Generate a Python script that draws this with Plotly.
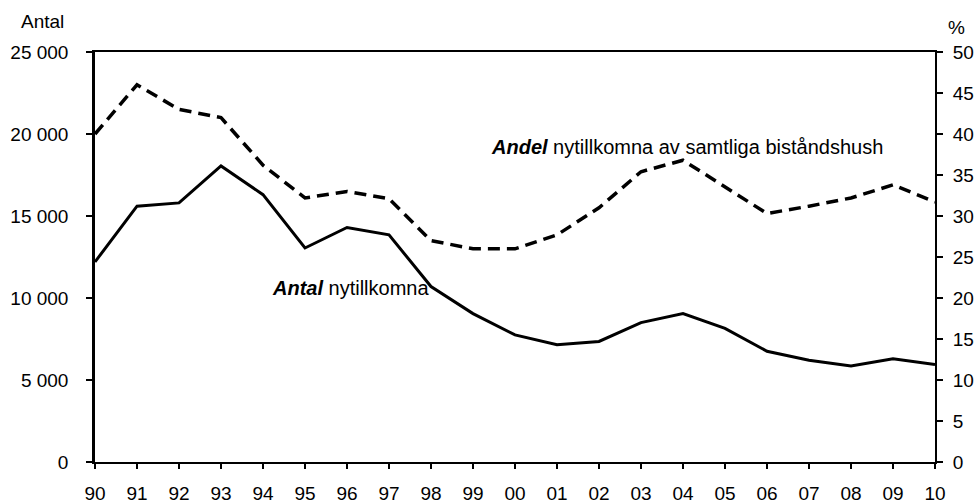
import plotly.graph_objects as go

years = ["90", "91", "92", "93", "94", "95", "96", "97", "98", "99", "00",
         "01", "02", "03", "04", "05", "06", "07", "08", "09", "10"]
antal = [12200, 15600, 15800, 18050, 16300, 13050, 14300, 13850, 10700, 9050, 7750,
         7150, 7350, 8500, 9050, 8150, 6750, 6200, 5850, 6300, 5950]
andel = [40.0, 46.0, 43.0, 42.0, 36.2, 32.2, 33.0, 32.1, 27.0, 26.0, 26.0,
         27.7, 31.0, 35.4, 36.8, 33.5, 30.3, 31.2, 32.2, 33.8, 31.7]

left_vals = [0, 5000, 10000, 15000, 20000, 25000]
left_text = ["0", "5 000", "10 000", "15 000", "20 000", "25 000"]
right_vals = [0, 5, 10, 15, 20, 25, 30, 35, 40, 45, 50]

FONT = "Liberation Sans, Arial, sans-serif"
W, H = 979, 503
ML, MR, MT, MB = 95, 44, 52, 41
PW, PH = W - ML - MR, H - MT - MB

def px(x):
    return (x - ML) / PW

def py(y):
    return (H - MB - y) / PH

fig = go.Figure()
fig.add_trace(go.Scatter(x=years, y=antal, mode="lines", name="Antal",
                         line=dict(color="black", width=3), yaxis="y"))
fig.add_trace(go.Scatter(x=years, y=andel, mode="lines", name="Andel",
                         line=dict(color="black", width=3.5, dash="12px,7px"), yaxis="y2"))

fig.update_layout(
    width=W, height=H,
    margin=dict(l=ML, r=MR, t=MT, b=MB, autoexpand=False),
    paper_bgcolor="white", plot_bgcolor="white",
    showlegend=False,
    font=dict(family=FONT, size=19, color="black"),
    xaxis=dict(type="category", range=[0, 20], showgrid=False, zeroline=False,
               showline=True, linecolor="black", linewidth=2, mirror=True,
               ticks="outside", ticklen=5, tickwidth=1.5, tickcolor="black",
               ticklabelstandoff=8, tickfont=dict(size=19)),
    yaxis=dict(range=[0, 25000], tickvals=left_vals, ticktext=left_text,
               showgrid=False, zeroline=False, showline=True, linecolor="black",
               linewidth=2.5, ticks="outside", ticklen=6, tickwidth=1.5,
               tickcolor="black", ticklabelstandoff=14, tickfont=dict(size=19)),
    yaxis2=dict(range=[0, 50], tickvals=right_vals, overlaying="y", side="right",
                showgrid=False, zeroline=False, showline=True, linecolor="black",
                linewidth=2, ticks="outside", ticklen=6, tickwidth=1.5,
                tickcolor="black", ticklabelstandoff=6, tickfont=dict(size=19)),
    annotations=[
        dict(text="Antal", xref="paper", yref="paper", x=px(42), y=py(22),
             xanchor="center", yanchor="middle", showarrow=False,
             font=dict(size=19)),
        dict(text="%", xref="paper", yref="paper", x=px(957), y=py(28),
             xanchor="center", yanchor="middle", showarrow=False,
             font=dict(size=19)),
        dict(text="<b><i>Andel</i></b> nytillkomna av samtliga biståndshush",
             xref="paper", yref="paper", x=px(489), y=py(147),
             xanchor="left", yanchor="middle", showarrow=False,
             font=dict(size=20)),
        dict(text="<b><i>Antal</i></b> nytillkomna",
             xref="paper", yref="paper", x=px(270), y=py(288),
             xanchor="left", yanchor="middle", showarrow=False,
             font=dict(size=20)),
    ],
)

fig.write_html("out.html", config={"displayModeBar": False},
               post_script="document.body.style.margin='0';document.body.style.padding='0';")
